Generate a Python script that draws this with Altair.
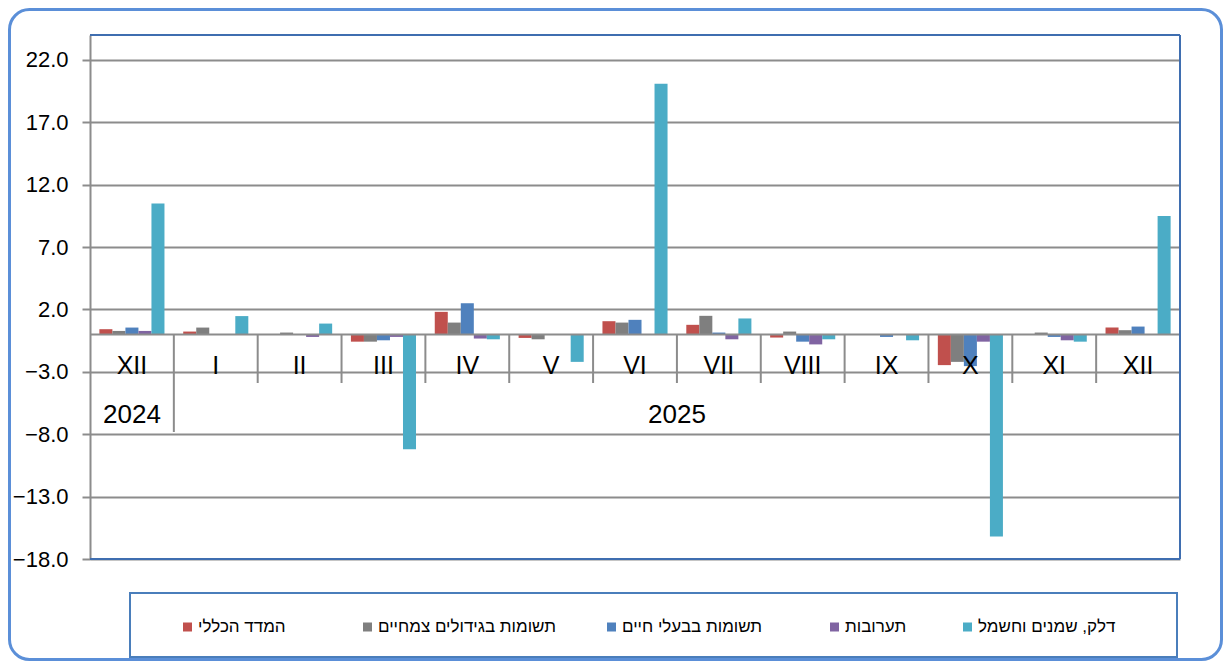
import altair as alt
import pandas as pd

# ---------------- data ----------------
months = ["XII", "I", "II", "III", "IV", "V", "VI", "VII", "VIII", "IX", "X", "XI", "XII"]
series = ["המדד הכללי", "תשומות בגידולים  צמחיים", "תשומות בבעלי חיים", "תערובות", "דלק, שמנים וחשמל"]
colors = ["#c0504d", "#7f7f7f", "#4f81bd", "#8064a2", "#4bacc6"]

general = [0.42, 0.23, 0.0, -0.58, 1.81, -0.28, 1.06, 0.77, -0.25, 0.0, -2.46, 0.0, 0.55]
plants = [0.28, 0.55, 0.15, -0.58, 0.95, -0.39, 0.95, 1.49, 0.23, 0.0, -2.2, 0.15, 0.34]
animals = [0.55, 0.0, 0.0, -0.47, 2.5, 0.0, 1.17, 0.15, -0.58, -0.2, -2.54, -0.2, 0.63]
feed = [0.28, 0.0, -0.2, -0.2, -0.33, 0.0, 0.0, -0.39, -0.8, 0.0, -0.58, -0.47, 0.0]
fuel = [10.5, 1.47, 0.87, -9.2, -0.39, -2.2, 20.1, 1.28, -0.39, -0.47, -16.2, -0.58, 9.5]

y_ticks = [-18, -13, -8, -3, 2, 7, 12, 17, 22]

# ---------------- tables ----------------
rows = []
for s, vals in zip(series, [general, plants, animals, feed, fuel]):
    for i, v in enumerate(vals):
        rows.append({"grp": i, "month": months[i], "series": s, "value": v})
df = pd.DataFrame(rows)
df_months = pd.DataFrame({"grp": list(range(len(months))), "month": months})
one = pd.DataFrame({"a": [0]})

FONT = "Liberation Sans"
GRID = "#8c8c8c"
BORDER = "#3f6eb0"
W, H = 1090, 524

xscale = alt.Scale(domain=list(range(len(months))), paddingInner=0, paddingOuter=0)
yscale = alt.Scale(domain=[-18, 24], nice=False, zero=False)

# outer rounded frame
frame = alt.Chart(one).mark_rect(
    fillOpacity=0, stroke="#5b8fd8", strokeWidth=3, cornerRadius=20
).encode(x=alt.value(-80.5), x2=alt.value(1131.5), y=alt.value(-25.5), y2=alt.value(624.5))

bars = alt.Chart(df).mark_bar().encode(
    x=alt.X("grp:O", scale=xscale, axis=None),
    xOffset=alt.XOffset("series:N", sort=series,
                        scale=alt.Scale(domain=series, paddingInner=0, paddingOuter=0.72)),
    y=alt.Y("value:Q", scale=yscale, title=None,
            axis=alt.Axis(values=y_ticks, format=".1f", grid=True, gridColor=GRID, gridWidth=2,
                          domainColor=GRID, domainWidth=2, tickColor=GRID, tickWidth=2, tickSize=8,
                          labelFont=FONT, labelFontSize=22, labelColor="#000", labelPadding=14)),
    color=alt.Color("series:N", scale=alt.Scale(domain=series, range=colors), legend=None),
)

zero = alt.Chart(one).mark_rule(color=GRID, strokeWidth=2).encode(y=alt.datum(0))

sep_short = alt.Chart(df_months[df_months.grp >= 2]).mark_rule(color=GRID, strokeWidth=2).encode(
    x=alt.X("grp:O", scale=xscale, bandPosition=0), y=alt.datum(0), y2=alt.value(348))
sep_long = alt.Chart(df_months[df_months.grp == 1]).mark_rule(color=GRID, strokeWidth=2).encode(
    x=alt.X("grp:O", scale=xscale, bandPosition=0), y=alt.datum(0), y2=alt.value(397))

month_labels = alt.Chart(df_months).mark_text(
    font=FONT, fontSize=25, color="#000", baseline="middle", align="center"
).encode(x=alt.X("grp:O", scale=xscale), y=alt.value(331), text="month:N")

year24 = alt.Chart(df_months[df_months.grp == 0]).mark_text(
    font=FONT, fontSize=26, color="#000", baseline="middle", align="center"
).encode(x=alt.X("grp:O", scale=xscale), y=alt.value(380), text=alt.value("2024"))
year25 = alt.Chart(df_months[df_months.grp == 6]).mark_text(
    font=FONT, fontSize=26, color="#000", baseline="middle", align="center"
).encode(x=alt.X("grp:O", scale=xscale, bandPosition=1), y=alt.value(380), text=alt.value("2025"))

top_b = alt.Chart(one).mark_rule(color=BORDER, strokeWidth=2).encode(
    x=alt.value(0), x2=alt.value(W), y=alt.value(0))
right_b = alt.Chart(one).mark_rule(color=BORDER, strokeWidth=2).encode(
    x=alt.value(W), y=alt.value(0), y2=alt.value(H))
bottom_b = alt.Chart(one).mark_rule(color=BORDER, strokeWidth=2).encode(
    x=alt.value(0), x2=alt.value(W), y=alt.value(H))

legend_box = alt.Chart(one).mark_rect(
    fill="white", stroke="#4a7ebb", strokeWidth=2
).encode(x=alt.value(40), x2=alt.value(1087), y=alt.value(558), y2=alt.value(622))

legend_x = [93, 273, 517, 740, 873]
legend_layers = []
for name, col, lx in zip(series, colors, legend_x):
    legend_layers.append(alt.Chart(one).mark_rect(color=col).encode(
        x=alt.value(lx), x2=alt.value(lx + 9), y=alt.value(587.5), y2=alt.value(596.5)))
    legend_layers.append(alt.Chart(one).mark_text(
        font=FONT, fontSize=17, color="#000", align="left", baseline="middle"
    ).encode(x=alt.value(lx + 15), y=alt.value(592), text=alt.value(name)))

chart = alt.layer(
    frame, bars, zero, sep_short, sep_long, month_labels, year24, year25,
    top_b, right_b, bottom_b, legend_box, *legend_layers
).properties(
    width=W, height=H,
    padding={"left": 82, "top": 27, "right": 43, "bottom": 102},
    autosize=alt.AutoSizeParams(type="none"),
    background="white",
).configure_view(strokeWidth=0)

chart.save("out.html", embed_options={"renderer": "svg", "actions": False})
